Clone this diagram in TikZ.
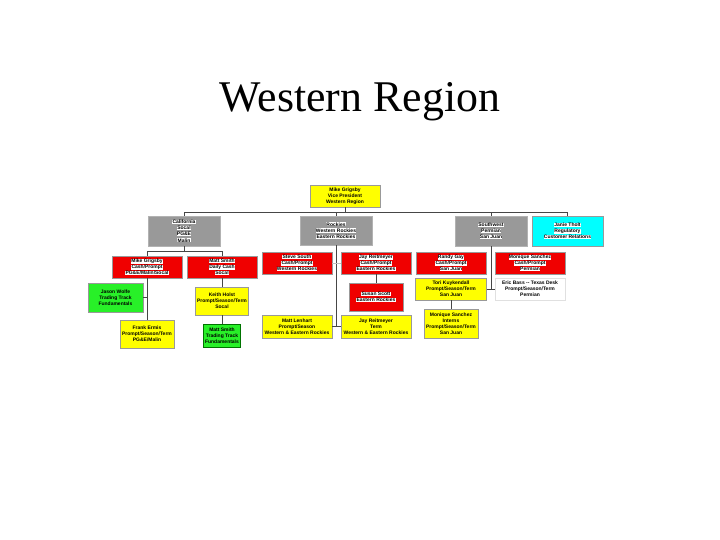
\documentclass[tikz,border=0pt]{standalone}
\usepackage{fontspec}
\setmainfont{Liberation Serif}
\newfontfamily\boxfont{Liberation Sans}
\definecolor{cyel}{RGB}{255,255,0}
\definecolor{cred}{RGB}{240,0,0}
\definecolor{cgray}{RGB}{153,153,153}
\definecolor{ccyan}{RGB}{0,255,255}
\definecolor{cgreen}{RGB}{40,240,40}
\definecolor{cline}{RGB}{70,70,70}
\newcommand\hw[1]{{\setlength\fboxsep{0.25pt}\colorbox{white}{#1}}}
\tikzset{
  orgbox/.style={draw=black!40, line width=0.5bp, inner sep=0pt, align=center,
    font=\boxfont\bfseries\fontsize{5}{6.2}\selectfont},
  yelbox/.style={orgbox, fill=cyel},
  redbox/.style={orgbox, fill=cred},
  graybox/.style={orgbox, fill=cgray, draw=black!30},
  cyanbox/.style={orgbox, fill=ccyan},
  greenbox/.style={orgbox, fill=cgreen},
  whitebox/.style={orgbox, fill=white, draw=black!12},
  conn/.style={draw=cline, line width=0.8bp},
  faint/.style={draw=black!25, line width=0.5bp}
}
\begin{document}
\begin{tikzpicture}[x=1bp,y=-1bp]
\useasboundingbox[fill=white] (0,0) rectangle (720,540);
\node[font=\fontsize{44}{50}\selectfont, anchor=base] (title) at (360,112) {Western Region};

\node[yelbox, minimum width=70bp, minimum height=22bp] (top) at (345,196) {Mike Grigsby\\Vice President\\Western Region};

\node[graybox, minimum width=72bp, minimum height=30bp] (cal) at (184,231) {\hw{California}\\\hw{Socal}\\\hw{PG\&E}\\\hw{Malin}};
\node[graybox, minimum width=72bp, minimum height=29bp] (rock) at (336,230.5) {\hw{Rockies}\\\hw{Western Rockies}\\\hw{Eastern Rockies}};
\node[graybox, minimum width=72bp, minimum height=30bp] (sw) at (491,231) {\hw{Southwest}\\\hw{Permian}\\\hw{San Juan}};
\node[cyanbox, minimum width=71bp, minimum height=30bp] (janie) at (567.5,231) {\hw{Janie Tholt}\\\hw{Regulatory}\\\hw{Customer Relations}};

\node[redbox, minimum width=70bp, minimum height=22bp] (mike) at (147,267) {\hw{Mike Grigsby}\\\hw{Cash/Prompt}\\\hw{PG\&E/Malin/Socal}};
\node[redbox, minimum width=70bp, minimum height=22bp] (marks) at (222,267) {\hw{Matt Smith}\\\hw{Daily Cash}\\\hw{Socal}};
\node[greenbox, minimum width=55bp, minimum height=29bp] (jason) at (115.5,297.5) {Jason Wolfe\\Trading Track\\Fundamentals};
\node[yelbox, minimum width=54bp, minimum height=28bp] (frank) at (147,334) {Frank Ermis\\Prompt/Season/Term\\PG\&E/Malin};
\node[yelbox, minimum width=53bp, minimum height=28bp] (keith) at (222,301) {Keith Holst\\Prompt/Season/Term\\Socal};
\node[greenbox, draw=green!45!black, line width=1bp, minimum width=37bp, minimum height=23bp] (markst) at (222,335.5) {Matt Smith\\Trading Track\\Fundamentals};

\node[redbox, minimum width=70bp, minimum height=22bp] (steve) at (297,263) {\hw{Steve South}\\\hw{Cash/Prompt}\\\hw{Western Rockies}};
\node[redbox, minimum width=70bp, minimum height=22bp] (jay) at (376,263) {\hw{Jay Reitmeyer}\\\hw{Cash/Prompt}\\\hw{Eastern Rockies}};
\node[redbox, minimum width=54bp, minimum height=28bp] (susan) at (376,297) {\hw{Susan Scott}\\\hw{Eastern Rockies}};
\node[yelbox, minimum width=70bp, minimum height=23bp] (matt) at (297,326.5) {Matt Lenhart\\Prompt/Season\\Western \& Eastern Rockies};
\node[yelbox, minimum width=70bp, minimum height=23bp] (jayt) at (376,326.5) {Jay Reitmeyer\\Term\\Western \& Eastern Rockies};

\node[redbox, minimum width=70bp, minimum height=22bp] (randy) at (451,263) {\hw{Randy Gay}\\\hw{Cash/Prompt}\\\hw{San Juan}};
\node[redbox, minimum width=70bp, minimum height=22bp] (monique) at (530,263) {\hw{Monique Sanchez}\\\hw{Cash/Prompt}\\\hw{Permian}};
\node[yelbox, minimum width=71bp, minimum height=22bp] (tori) at (451,289) {Tori Kuykendall\\Prompt/Season/Term\\San Juan};
\node[whitebox, minimum width=70bp, minimum height=22bp] (eric) at (530,289) {Eric Bass -- Texas Desk\\Prompt/Season/Term\\Permian};
\node[yelbox, minimum width=54bp, minimum height=29bp] (interns) at (451,323.5) {Monique Sanchez\\Interns\\Prompt/Season/Term\\San Juan};

\coordinate (b1) at (345,212);
\coordinate (b2) at (184,251);
\draw[conn] (top.south) -- (b1);
\draw[conn] (cal.north) -- (cal.north |- b1) -- (janie.north |- b1) -- (janie.north);
\draw[conn] (rock.north) -- (rock.north |- b1);
\draw[conn] (sw.north) -- (sw.north |- b1);

\draw[conn] (cal.south) -- (b2);
\draw[conn] (mike.north) -- (mike.north |- b2) -- (marks.north |- b2) -- (marks.north);
\draw[conn] (mike.south) -- (frank.north);
\draw[conn] (jason.east) -- (jason.east -| mike.south);
\draw[conn] (marks.south) -- (keith.north);
\draw[conn] (keith.south) -- (markst.north);

\draw[conn] (rock.south) -- (rock.south |- matt.east);
\draw[conn] (matt.east) -- (jayt.west);
\draw[faint] (steve.east) -- (jay.west);
\draw[conn] (jay.south) -- (susan.north);

\draw[conn] (sw.south) -- (sw.south |- tori.east);
\draw[conn] (tori.east) -- (eric.west);
\draw[conn] (tori.south) -- (interns.north);
\end{tikzpicture}
\end{document}
